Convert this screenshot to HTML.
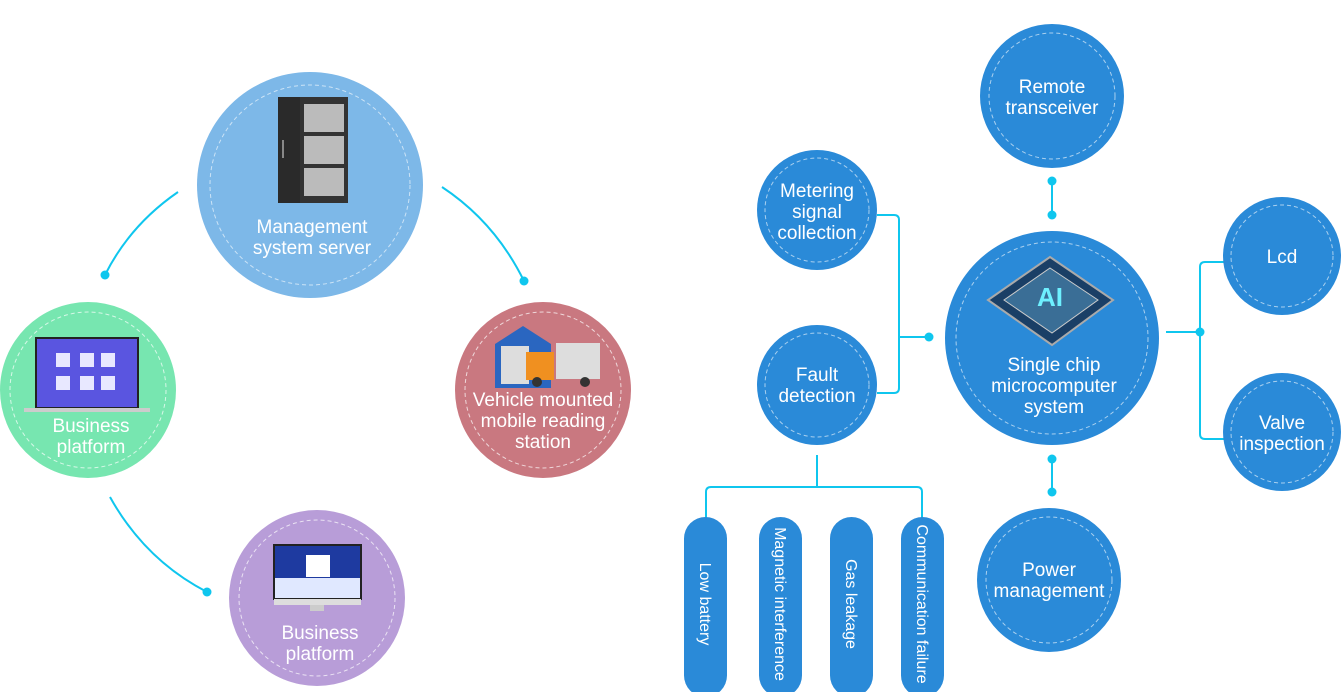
<!DOCTYPE html>
<html><head><meta charset="utf-8"><style>
html,body{margin:0;padding:0;background:#fff;width:1344px;height:692px;overflow:hidden}
svg{display:block}
text{font-family:"Liberation Sans",sans-serif;fill:#fff;font-size:19px;text-anchor:middle}
text.p{font-size:16px}
</style></head><body>
<svg width="1344" height="692" viewBox="0 0 1344 692" xmlns="http://www.w3.org/2000/svg">
<g fill="none" stroke="#0fc6ee" stroke-width="2">
<path d="M178 192 Q130 225 105 275"/>
<path d="M442 187 Q495 222 524 281"/>
<path d="M110 497 Q145 560 207 592"/>
<path d="M877 215 H894 Q899 215 899 220 V388 Q899 393 894 393 H877"/>
<path d="M899 337 H929"/>
<path d="M1052 181 V215"/><path d="M1052 459 V492"/>
<path d="M1166 332 H1200"/>
<path d="M1226 262 H1205 Q1200 262 1200 267 V434 Q1200 439 1205 439 H1226"/>
<path d="M817 455 V487"/>
<path d="M706 527 V492 Q706 487 711 487 H917 Q922 487 922 492 V522"/>
</g>
<g fill="#0fc6ee">
<circle cx="105" cy="275" r="4.5"/><circle cx="524" cy="281" r="4.5"/><circle cx="207" cy="592" r="4.5"/>
<circle cx="929" cy="337" r="4.5"/><circle cx="1052" cy="181" r="4.5"/><circle cx="1052" cy="215" r="4.5"/>
<circle cx="1052" cy="459" r="4.5"/><circle cx="1052" cy="492" r="4.5"/><circle cx="1200" cy="332" r="4.5"/>
</g>
<circle cx="310" cy="185" r="113" fill="#7db8e8"/>
<circle cx="310" cy="185" r="100" fill="none" stroke="#fff" stroke-opacity=".6" stroke-dasharray="4 3"/>
<circle cx="88" cy="390" r="88" fill="#77e6b0"/>
<circle cx="88" cy="390" r="78" fill="none" stroke="#fff" stroke-opacity=".7" stroke-dasharray="4 3"/>
<circle cx="543" cy="390" r="88" fill="#c97880"/>
<circle cx="543" cy="390" r="78" fill="none" stroke="#fff" stroke-opacity=".7" stroke-dasharray="4 3"/>
<circle cx="317" cy="598" r="88" fill="#b89dd8"/>
<circle cx="317" cy="598" r="78" fill="none" stroke="#fff" stroke-opacity=".7" stroke-dasharray="4 3"/>
<rect x="278" y="97" width="22" height="106" fill="#2a2a2a"/>
<rect x="300" y="97" width="48" height="106" fill="#333"/>
<rect x="304" y="104" width="40" height="28" fill="#bbb"/><rect x="304" y="136" width="40" height="28" fill="#bbb"/><rect x="304" y="168" width="40" height="28" fill="#bbb"/>
<rect x="282" y="140" width="2" height="18" fill="#888"/>
<rect x="36" y="338" width="102" height="70" fill="#5a55e0" stroke="#222" stroke-width="2"/>
<rect x="24" y="408" width="126" height="4" fill="#ccc"/>
<g fill="#e8e8ff"><rect x="56" y="353" width="14" height="14"/><rect x="80" y="353" width="14" height="14"/><rect x="101" y="353" width="14" height="14"/><rect x="56" y="376" width="14" height="14"/><rect x="80" y="376" width="14" height="14"/><rect x="101" y="376" width="14" height="14"/></g>
<path d="M495 344 L523 326 L551 344 V388 H495 Z" fill="#2a66c0"/>
<rect x="501" y="346" width="28" height="38" fill="#ddd"/>
<rect x="556" y="343" width="44" height="36" fill="#ddd"/>
<rect x="526" y="352" width="28" height="28" fill="#f09020"/>
<circle cx="537" cy="382" r="5" fill="#333"/><circle cx="585" cy="382" r="5" fill="#333"/>
<rect x="274" y="545" width="87" height="54" fill="#1e3aa0" stroke="#222" stroke-width="2"/>
<rect x="275" y="578" width="85" height="20" fill="#e0e8ff"/>
<rect x="306" y="555" width="24" height="22" fill="#fff"/>
<rect x="274" y="599" width="87" height="6" fill="#ddd"/>
<rect x="310" y="605" width="14" height="6" fill="#ccc"/>
<text x="312" y="233">Management</text><text x="312" y="254">system server</text>
<text x="91" y="432">Business</text><text x="91" y="453">platform</text>
<text x="543" y="406">Vehicle mounted</text><text x="543" y="427">mobile reading</text><text x="543" y="448">station</text>
<text x="320" y="639">Business</text><text x="320" y="660">platform</text>
<g fill="#2a8ad8">
<circle cx="1052" cy="96" r="72"/><circle cx="817" cy="210" r="60"/><circle cx="817" cy="385" r="60"/>
<circle cx="1052" cy="338" r="107"/><circle cx="1282" cy="256" r="59"/><circle cx="1282" cy="432" r="59"/><circle cx="1049" cy="580" r="72"/>
<rect x="684" y="517" width="43" height="180" rx="21.5"/><rect x="759" y="517" width="43" height="180" rx="21.5"/>
<rect x="830" y="517" width="43" height="180" rx="21.5"/><rect x="901" y="517" width="43" height="180" rx="21.5"/>
</g>
<g fill="none" stroke="#fff" stroke-opacity=".6" stroke-dasharray="4 3">
<circle cx="1052" cy="96" r="63"/><circle cx="817" cy="210" r="52"/><circle cx="817" cy="385" r="52"/>
<circle cx="1052" cy="338" r="96"/><circle cx="1282" cy="256" r="51"/><circle cx="1282" cy="432" r="51"/><circle cx="1049" cy="580" r="63"/>
</g>
<path d="M1050 257 L1113 300 L1052 345 L988 300 Z" fill="#1a3f66" stroke="#aaa" stroke-width="2"/>
<path d="M1050 268 L1098 300 L1052 333 L1004 300 Z" fill="#3a6e96" stroke="#ccc" stroke-width="1"/>
<text x="1050" y="306" style="fill:#6ef0ff;font-size:26px;font-weight:bold">AI</text>
<text x="1052" y="93">Remote</text><text x="1052" y="114">transceiver</text>
<text x="817" y="197">Metering</text><text x="817" y="218">signal</text><text x="817" y="239">collection</text>
<text x="817" y="381">Fault</text><text x="817" y="402">detection</text>
<text x="1054" y="371">Single chip</text><text x="1054" y="392">microcomputer</text><text x="1054" y="413">system</text>
<text x="1282" y="263">Lcd</text>
<text x="1282" y="429">Valve</text><text x="1282" y="450">inspection</text>
<text x="1049" y="576">Power</text><text x="1049" y="597">management</text>
<text class="p" transform="translate(700 604) rotate(90)">Low battery</text>
<text class="p" transform="translate(775 604) rotate(90)">Magnetic interference</text>
<text class="p" transform="translate(846 604) rotate(90)">Gas leakage</text>
<text class="p" transform="translate(917 604) rotate(90)">Communication failure</text>
</svg>
</body></html>
